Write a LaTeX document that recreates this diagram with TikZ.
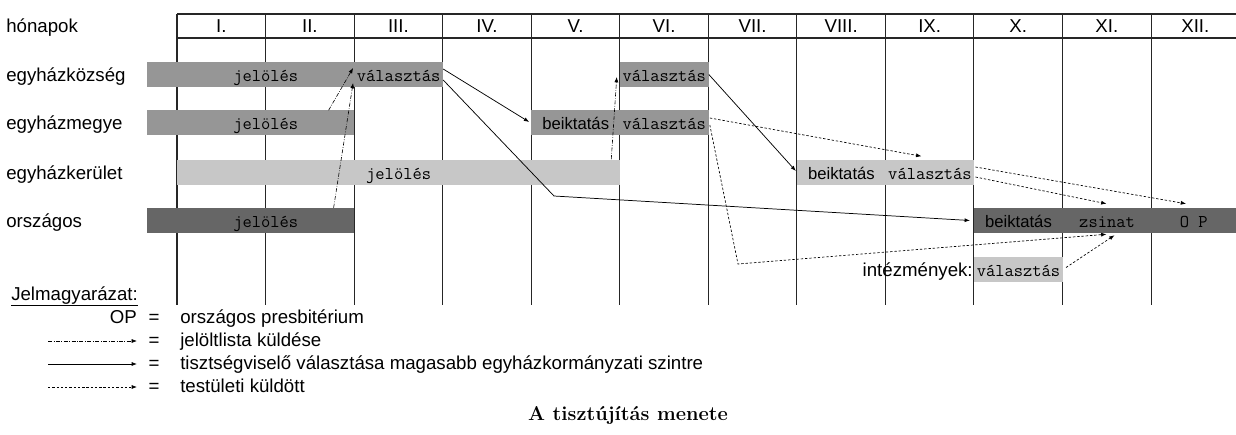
\documentclass[tikz,border=0pt]{standalone}
\usepackage{fontspec}
\setsansfont{Liberation Sans}
\usepackage{tikz}
\usetikzlibrary{arrows.meta,calc}

\definecolor{barmid}{gray}{0.59}
\definecolor{barlight}{gray}{0.78}
\definecolor{bardark}{gray}{0.40}
\newcommand{\colw}{66.41pt}

\tikzset{
  txt/.style={inner sep=0pt, anchor=base, font=\sffamily\fontsize{14}{16}\selectfont},
  rowlabel/.style={txt, anchor=base west},
  bar/.style={rectangle, inner sep=0pt, anchor=west, minimum height=18.75pt,
    text height=10.5pt, text depth=0pt, font=\ttfamily\fontsize{13.5}{15}\selectfont},
  sansbar/.style={font=\sffamily\fontsize{12.5}{14}\selectfont},
  racs/.style={line width=0.8pt, black!85},
  jelolt/.style={-{Latex[length=4pt,width=3pt]}, line width=0.45pt, dash pattern=on 3pt off 1.2pt on 0.5pt off 1.2pt},
  tiszt/.style={-{Latex[length=4pt,width=3pt]}, line width=0.55pt},
  testul/.style={-{Latex[length=4pt,width=3pt]}, line width=0.5pt, dash pattern=on 1.8pt off 1.4pt},
}

\begin{document}
\begin{tikzpicture}[x=0.75pt, y=-0.75pt]
\useasboundingbox (0,0) rectangle (1236,435);

\draw[racs] (177,14) -- (1236,14);
\draw[racs] (177,38) -- (1236,38);
\foreach \i in {0,...,11}
  \draw[racs] (177+88.55*\i,14) -- (177+88.55*\i,305);

\path (6,33) node (honap) [rowlabel] {hónapok};
\foreach \m [count=\i from 0] in {I.,II.,III.,IV.,V.,VI.,VII.,VIII.,IX.,X.,XI.,XII.}
  \path (221.3+88.55*\i,33) node (ho\i) [txt] {\m};

\path (6,81.5) node (kozs) [rowlabel] {egyházközség};
\path (6,130) node (megye) [rowlabel] {egyházmegye};
\path (6,179) node (ker) [rowlabel] {egyházkerület};
\path (6,227.5) node (orsz) [rowlabel] {országos};

\path (147,74.5) node (kozsS) [bar, fill=barmid, minimum width=23.25pt] {};
\path (177,74.5) node (kozsJ) [bar, fill=barmid, minimum width=2*\colw] {jelölés};
\path (354.1,74.5) node (kozsV3) [bar, fill=barmid, minimum width=\colw] {választás};
\path (619.75,74.5) node (kozsV6) [bar, fill=barmid, minimum width=\colw] {választás};

\path (147,123) node (megyeS) [bar, fill=barmid, minimum width=23.25pt] {};
\path (177,123) node (megyeJ) [bar, fill=barmid, minimum width=2*\colw] {jelölés};
\path (531.2,123) node (megyeB) [bar, sansbar, fill=barmid, minimum width=\colw] {beiktatás};
\path (619.75,123) node (megyeV) [bar, fill=barmid, minimum width=\colw] {választás};

\path (177,172) node (kerJ) [bar, fill=barlight, minimum width=5*\colw] {jelölés};
\path (796.85,172) node (kerB) [bar, sansbar, fill=barlight, minimum width=\colw] {beiktatás};
\path (885.4,172) node (kerV) [bar, fill=barlight, minimum width=\colw] {választás};

\path (147,220.5) node (orszS) [bar, fill=bardark, minimum width=23.25pt] {};
\path (177,220.5) node (orszJ) [bar, fill=bardark, minimum width=2*\colw] {jelölés};
\path (973.95,220.5) node (orszB) [bar, sansbar, fill=bardark, minimum width=\colw] {beiktatás};
\path (1062.5,220.5) node (orszZ) [bar, fill=bardark, minimum width=\colw] {zsinat};
\path (1151.05,220.5) node (orszOP) [bar, fill=bardark, minimum width=63.71pt] {O P};

\path (973.95,269.5) node (intV) [bar, fill=barlight, minimum width=\colw] {választás};
\path ($(intV.west)+(-1,7)$) node (intL) [txt, anchor=base east] {intézmények:};

\draw[jelolt] ($(megyeJ.north east)+(-26,0)$) -- ($(kozsV3.west)+(-1,-6.5)$);
\draw[jelolt] ($(orszJ.north east)+(-21,0)$) -- ($(kozsV3.west)+(-1,8.5)$);
\draw[jelolt] ($(kerJ.north east)+(-9,0)$) -- ($(kozsV6.west)+(-3,2.5)$);

\coordinate (tores1) at (554,196);
\draw[tiszt] ($(kozsV3.east)+(0,-5.5)$) -- ($(megyeB.west)+(-2,-1)$);
\draw[tiszt] ($(kozsV3.east)+(0,5.5)$) -- (tores1) -- ($(orszB.west)+(-4,0)$);
\draw[tiszt] (kozsV6.east) -- ($(kerB.west)+(-1,-1)$);

\coordinate (tores2) at (738,264);
\draw[testul] ($(megyeV.east)+(1,-5)$) -- ($(kerV.north west)+(36,-3)$);
\draw[testul] ($(megyeV.east)+(1,2)$) -- (tores2) -- ($(orszZ.south west)+(44,1)$);
\draw[testul] ($(kerV.east)+(1,-5)$) -- ($(orszOP.north west)+(35,-4)$);
\draw[testul] ($(kerV.east)+(1,5)$) -- ($(orszZ.north west)+(44,-4)$);
\draw[testul] ($(intV.east)+(3,-2)$) -- ($(orszZ.south west)+(52,2)$);

\path (11,300) node (jelm) [rowlabel] {\underline{Jelmagyarázat:}};
\path (137,323) node (op) [txt, anchor=base east] {OP};
\foreach \y [count=\k] in {323,346,369,392}
  \path (154,\y) node (egy\k) [txt] {=};
\path (180,323) node (lt1) [rowlabel] {országos presbitérium};
\path (180,346) node (lt2) [rowlabel] {jelöltlista küldése};
\path (180,369) node (lt3) [rowlabel] {tisztségviselő választása magasabb egyházkormányzati szintre};
\path (180,392) node (lt4) [rowlabel] {testületi küldött};
\coordinate (la2) at (48,341);
\coordinate (lb2) at (137,341);
\coordinate (la3) at (48,364);
\coordinate (lb3) at (137,364);
\coordinate (la4) at (48,387);
\coordinate (lb4) at (137,387);
\draw[jelolt] (la2) -- (lb2);
\draw[tiszt] (la3) -- (lb3);
\draw[testul] (la4) -- (lb4);

\path (628,420) node (cim) [txt, font=\rmfamily\bfseries\fontsize{15}{17}\selectfont] {A tisztújítás menete};
\end{tikzpicture}
\end{document}
